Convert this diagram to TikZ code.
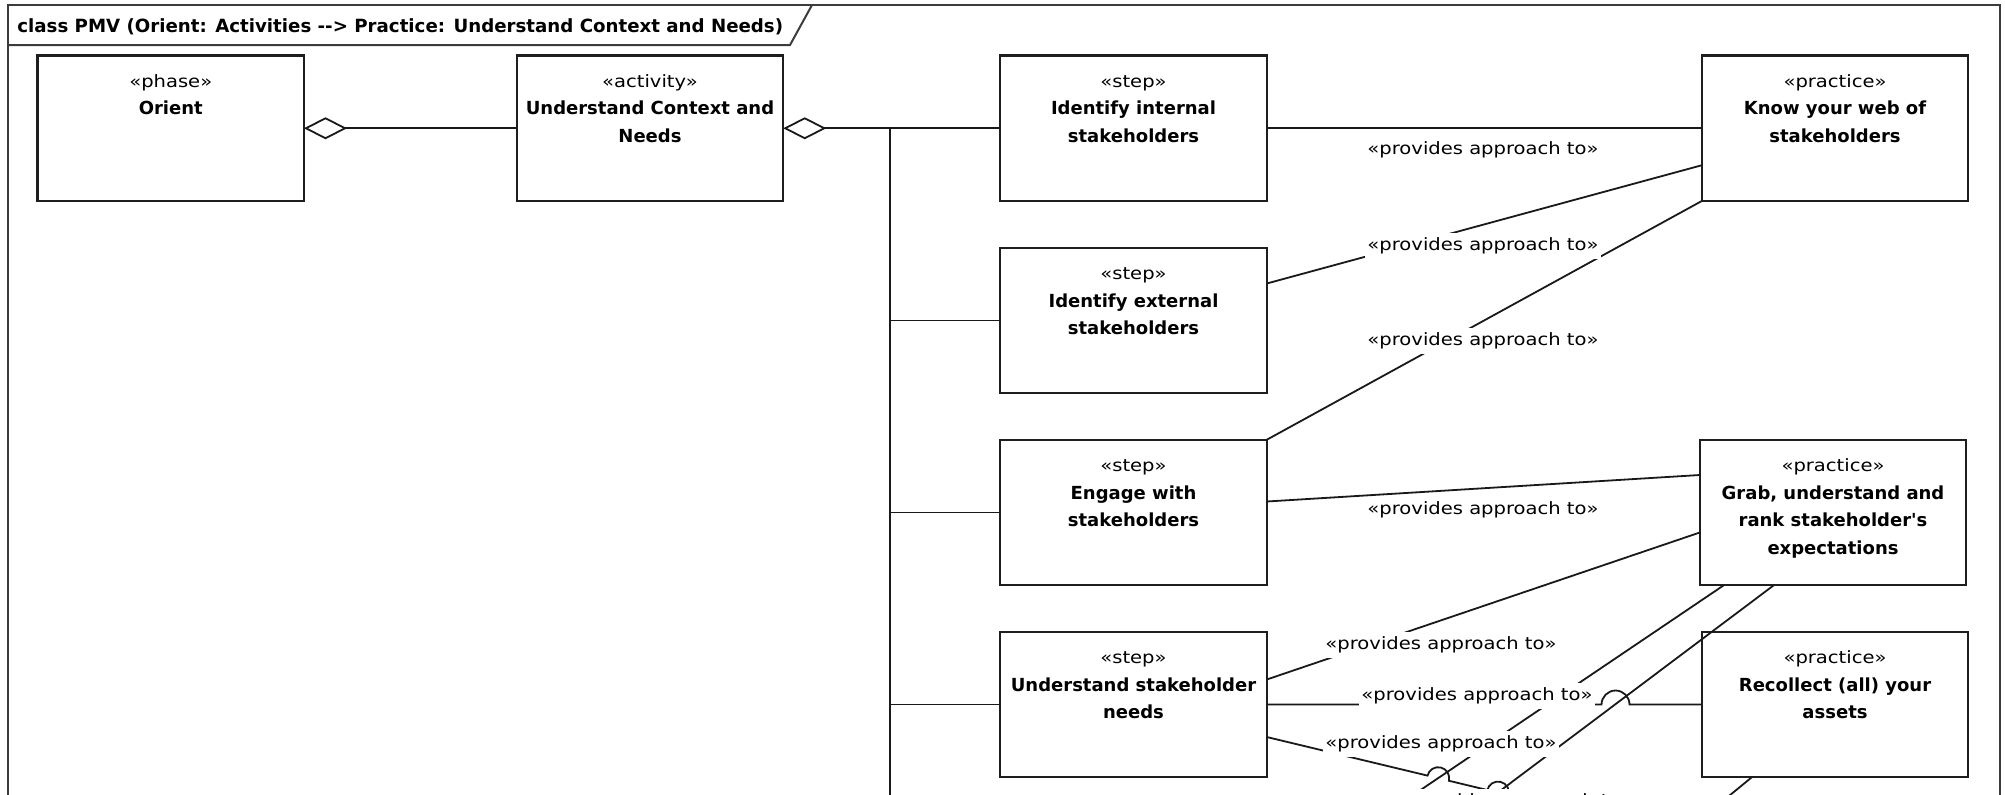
\documentclass[tikz,border=0pt]{standalone}
\usepackage{fontspec}
\newfontfamily\umlfont{DejaVu Sans}
\newfontfamily\stfont{DejaVu Sans}[FakeStretch=1.15]
\usetikzlibrary{arrows.meta,calc}
\definecolor{framecol}{HTML}{3C3C3C}
\definecolor{edgecol}{HTML}{1E1E1E}
% stereotype line at the top of a classifier box
\newcommand\umlst[1]{\rule{0pt}{10pt}{\fontsize{8.5}{13.75}\mdseries\stfont «#1»}}
\begin{document}
\begin{tikzpicture}[x=0.5pt,y=-0.5pt,
  umlbox/.style={draw=edgecol, line width=1.1pt, fill=white, minimum width=133.25pt,
    minimum height=72.75pt, inner sep=0pt, outer sep=0pt},
  boxtext/.style={anchor=north, align=center, inner sep=0pt,
    font=\fontsize{9}{13.75}\umlfont\bfseries},
  conn/.style={draw=black!90, line width=0.9pt},
  aggr/.style={{Diamond[length=21.5pt,width=11pt,fill=white,line join=miter]}-},
  lbl/.style={fill=white, inner xsep=1pt, inner ysep=2.5pt, font=\fontsize{8.5}{10}\stfont},
  framestyle/.style={draw=framecol, line width=1pt},
]
\useasboundingbox (0,0) rectangle (2005,794);
\fill[white] (0,0) rectangle (2005,794);
\clip (0,0) rectangle (2005,794);

% diagram frame and its name tab
\draw[framestyle] (7.5,860) -- (7.5,5) -- (2000,5) -- (2000,860);
\draw[framestyle] (7.5,45) -- (790,45) -- (812,5);
\node[anchor=base west, inner sep=0pt, font=\fontsize{9.1}{11}\umlfont\bfseries] (title)
  at (17,32.5) {class PMV (Orient: Activities {-}{-}> Practice: Understand Context and Needs)};

% classifier boxes
\node[umlbox] (orient) at (170.75,128.25) {};
\node[umlbox] (act)    at (650,128.25) {};
\node[umlbox] (s1)     at (1133.5,128.25) {};
\node[umlbox] (s2)     at (1133.5,320.5) {};
\node[umlbox] (s3)     at (1133.5,512.5) {};
\node[umlbox] (s4)     at (1133.5,704.5) {};
\node[umlbox] (know)   at (1835,128.25) {};
\node[umlbox] (grab)   at (1833,512.5) {};
\node[umlbox] (rec)    at (1835,704.5) {};

\node[boxtext] (orientT) at ([yshift=-5.75pt]orient.north) {\umlst{phase}\\Orient};
\node[boxtext] (actT)    at ([yshift=-5.75pt]act.north) {\umlst{activity}\\Understand Context and\\Needs};
\node[boxtext] (s1T)     at ([yshift=-5.75pt]s1.north) {\umlst{step}\\Identify internal\\stakeholders};
\node[boxtext] (s2T)     at ([yshift=-5.75pt]s2.north) {\umlst{step}\\Identify external\\stakeholders};
\node[boxtext] (s3T)     at ([yshift=-5.75pt]s3.north) {\umlst{step}\\Engage with\\stakeholders};
\node[boxtext] (s4T)     at ([yshift=-5.75pt]s4.north) {\umlst{step}\\Understand stakeholder\\needs};
\node[boxtext] (knowT)   at ([yshift=-5.75pt]know.north) {\umlst{practice}\\Know your web of\\stakeholders};
\node[boxtext] (grabT)   at ([yshift=-5.75pt]grab.north) {\umlst{practice}\\Grab, understand and\\rank stakeholder's\\expectations};
\node[boxtext] (recT)    at ([yshift=-5.75pt]rec.north) {\umlst{practice}\\Recollect (all) your\\assets};

% aggregation of the phase and the activity
\draw[conn,aggr] (orient.east) -- (act.west);
\draw[conn,aggr] (act.east) -- (s1.west);
\coordinate (busTop) at (890,128.25);
\coordinate (busEnd) at (890,860);
\draw[conn] (busTop) -- (busEnd);
\foreach \s in {s2,s3,s4} \draw[conn] (busTop |- \s.west) -- (\s.west);

% steps providing approach to practices
\draw[conn] (s1.east) -- (know.west);
\draw[conn] ($(s2.east)+(0,-37)$) -- ($(know.west)+(0,37)$);
\draw[conn] (s3.north east) -- (know.south west);
\draw[conn] ($(s3.east)+(0,-11)$) -- ($(grab.west)+(0,-37.5)$);
\draw[conn] ($(s4.east)+(0,-25)$) -- ($(grab.west)+(0,20)$);

% links leaving the visible area
\coordinate (offA) at (1343.5,842);
\coordinate (offB) at (1432,842);
\coordinate (off7) at (1704,842);
\coordinate (offR) at (1672.8,842);
\draw[conn] ($(grab.south west)+(24,0)$) -- (offA);
\draw[conn] ($(grab.south west)+(74,0)$) -- (offB);
\draw[conn] ($(rec.south west)+(50,0)$) -- (offR);

% links that hop over crossing lines
\draw[conn] (s4.east) -- (1601.5,704.5) arc[start angle=180,end angle=360,radius=14] -- (rec.west);
\draw[conn] ($(s4.east)+(0,32.5)$) -- (1427.5,775.6)
  arc[start angle=193.5,end angle=373.5,radius=11] -- (1487.3,790.0)
  arc[start angle=193.5,end angle=373.5,radius=11] -- (off7);

% link labels
\node[lbl] (l1) at (1483,150) {«provides approach to»};
\node[lbl] (l2) at (1483,246) {«provides approach to»};
\node[lbl] (l3) at (1483,341) {«provides approach to»};
\node[lbl] (l4) at (1483,510) {«provides approach to»};
\node[lbl] (l5) at (1441,645) {«provides approach to»};
\node[lbl] (l6) at (1477,696) {«provides approach to»};
\node[lbl] (l7) at (1441,744) {«provides approach to»};
\node[lbl] (l8) at (1517,802) {«provides approach to»};
\end{tikzpicture}
\end{document}
